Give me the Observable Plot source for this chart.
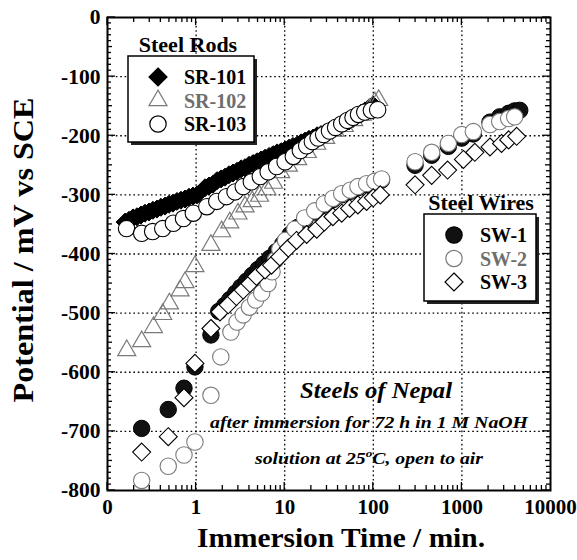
<!DOCTYPE html>
<html><head><meta charset="utf-8">
<script src="https://cdn.jsdelivr.net/npm/d3@7"></script>
<script src="https://cdn.jsdelivr.net/npm/@observablehq/plot@0.6"></script>
<style>body{margin:0;background:#fff} svg{display:block}</style>
</head><body><div id="chart"></div>
<script>
// ---------- data (time in min, potential in mV vs SCE) ----------
const xTicks = [0.1, 1, 10, 100, 1000, 10000];
const xTickLabels = ["0", "1", "10", "100", "1000", "10000"];
const yTicks = [-800, -700, -600, -500, -400, -300, -200, -100, 0];
const xGrid = [1, 10, 100, 1000];
const yGrid = [-700, -600, -500, -400, -300, -200, -100];

const sr101 = [[0.158,-346],[0.175,-343],[0.194,-339],[0.215,-337],[0.239,-334],[0.265,-331],[0.294,-329],[0.326,-326],[0.362,-324],[0.401,-321],[0.446,-319],[0.494,-316],[0.548,-314],[0.609,-311],[0.675,-309],[0.75,-307],[0.832,-304],[0.923,-302],[1.025,-300],[1.26,-288],[1.40,-285],[1.55,-282],[1.72,-276],[1.91,-273],[2.12,-270],[2.35,-266],[2.61,-263],[2.90,-260],[3.22,-256],[3.56,-254],[3.96,-250],[4.39,-247],[4.87,-244],[5.41,-241],[5.99,-238],[6.66,-235],[7.38,-232],[8.19,-229],[9.09,-227],[10.1,-224],[11.2,-221],[12.4,-218],[13.8,-216],[15.3,-212],[17.0,-209],[18.8,-206],[20.9,-204],[23.2,-200],[25.7,-198],[28.5,-195],[31.6,-192],[35.1,-188],[38.9,-185],[43.2,-182],[47.9,-178],[53.2,-175],[59,-171],[65.5,-166],[72.6,-162],[80.6,-158],[89.4,-153],[99.2,-148]];
const sr102 = [[0.165,-563],[0.243,-548],[0.33,-524],[0.42,-502],[0.5,-484],[0.66,-462],[0.75,-448],[0.97,-421],[1.47,-385],[1.94,-362],[2.4,-347],[2.97,-332],[3.57,-320],[4.3,-311],[5.2,-302],[6.3,-291],[7.5,-280],[9,-262],[11,-251],[14,-240],[18,-228],[23,-214],[29,-204],[37,-192],[47,-184],[60,-174],[75,-165],[90,-155],[104,-144],[115,-140]];
const sr103 = [[0.164,-357],[0.243,-365],[0.323,-362],[0.42,-357],[0.554,-348],[0.72,-340],[0.93,-331],[1.32,-320],[1.71,-311],[2.2,-303],[2.75,-295],[3.4,-286],[4.2,-278],[5.3,-269],[6.5,-261],[8.1,-252],[10.1,-244],[12.5,-235],[15,-225],[17.7,-217],[20.5,-210],[23.8,-204],[27.5,-198],[32,-192],[37.5,-186],[44,-180],[51,-174],[59,-169],[68,-164],[80,-160],[95,-157],[112,-156]];
const sw1 = [[0.243,-695],[0.485,-663],[0.73,-627],[0.97,-591],[1.47,-537],[1.8,-497],[2.1,-487],[2.4,-477],[2.8,-466],[3.2,-456],[3.7,-446],[4.3,-436],[5,-426],[5.8,-417],[6.8,-407],[8,-396],[9.5,-383],[11.5,-367],[14,-355],[17,-341],[21.8,-329],[28,-317],[35,-308],[44,-300],[55,-294],[67,-288],[84,-283],[104,-279],[124,-275],[296,-250],[456,-233],[703,-218],[995,-204],[1346,-197],[2075,-177],[2670,-168],[3370,-162],[3940,-158],[4500,-157]];
const sw2 = [[0.243,-783],[0.485,-759],[0.73,-740],[0.97,-718],[1.47,-639],[1.9,-574],[2.47,-532],[2.9,-515],[3.4,-503],[4.0,-490],[4.7,-478],[5.5,-466],[6.5,-450],[7.2,-430],[7.9,-410],[8.8,-392],[10.2,-377],[13,-358],[16.8,-339],[21.8,-327],[28,-315],[35,-306],[44,-298],[55,-292],[67,-286],[84,-281],[104,-277],[124,-273],[296,-244],[456,-228],[703,-213],[995,-198],[1346,-193],[2075,-181],[2670,-176],[3370,-171],[3940,-168]];
const sw3 = [[0.243,-735],[0.485,-709],[0.73,-643],[0.97,-585],[1.47,-526],[1.86,-498],[2.3,-486],[2.85,-472],[3.4,-461],[4.05,-450],[4.8,-438],[6.0,-427],[7.1,-419],[8.8,-405],[11,-390],[13.6,-377],[17.7,-367],[23,-358],[28,-346],[35,-337],[44,-331],[54,-323],[67,-317],[84,-311],[100,-305],[120,-300],[296,-283],[456,-267],[690,-258],[1040,-240],[1400,-228],[2075,-219],[2800,-213],[3370,-207],[4150,-201]];

const legendRods = ["SR-101", "SR-102", "SR-103"];
const legendWires = ["SW-1", "SW-2", "SW-3"];

// ---------- styles ----------
const FONT = "'Liberation Serif','Times New Roman',serif";
const GRAY = "#7a7a7a";
const R_CIRCLE = 8.2, R_DIAMOND = 8.1, R_TRI = 6.7;
const rows = arr => arr.map(([t, v]) => ({t, v}));

const chart = Plot.plot({
  width: 577, height: 560,
  marginLeft: 107, marginRight: 27, marginTop: 17, marginBottom: 70,
  style: {fontFamily: FONT, fontWeight: "bold", background: "white", color: "black", overflow: "visible"},
  x: {type: "log", domain: [0.1, 10000]},
  y: {domain: [-800, 0]},
  marks: [
    Plot.gridX(xGrid, {stroke: "black", strokeOpacity: 1, strokeDasharray: "1.6,2.8", strokeWidth: 1.3}),
    Plot.gridY(yGrid, {stroke: "black", strokeOpacity: 1, strokeDasharray: "1.6,2.8", strokeWidth: 1.3}),
    Plot.axisX(xTicks, {tickSize: 0, tickPadding: 9, fontSize: 21, label: null,
      tickFormat: d => xTickLabels[xTicks.indexOf(d)]}),
    Plot.axisY(yTicks, {tickSize: 0, tickPadding: 7, fontSize: 21.5, label: null, tickFormat: d => String(d)}),
    Plot.dot(rows(sr101), {x: "t", y: "v", symbol: "diamond2", r: R_DIAMOND, fill: "black", stroke: "black", strokeWidth: 1}),
    Plot.dot(rows(sr102), {x: "t", y: "v", symbol: "triangle", r: R_TRI, fill: "none", stroke: GRAY, strokeWidth: 1.2}),
    Plot.dot(rows(sr103), {x: "t", y: "v", symbol: "circle", r: R_CIRCLE, fill: "white", stroke: "black", strokeWidth: 1.1}),
    Plot.dot(rows(sw1), {x: "t", y: "v", symbol: "circle", r: R_CIRCLE, fill: "#111", stroke: "black", strokeWidth: 1}),
    Plot.dot(rows(sw2), {x: "t", y: "v", symbol: "circle", r: R_CIRCLE, fill: "white", stroke: GRAY, strokeWidth: 1.1}),
    Plot.dot(rows(sw3), {x: "t", y: "v", symbol: "diamond2", r: R_DIAMOND, fill: "white", stroke: "black", strokeWidth: 1.1}),
    Plot.frame({stroke: "black", strokeWidth: 2})
  ]
});
document.getElementById("chart").appendChild(chart);

// ---------- inward ticks, legends, titles ----------
const svg = d3.select(chart);
const sx = chart.scale("x"), sy = chart.scale("y");
const X = v => sx.apply(v), Y = v => sy.apply(v);
const [x0, x1] = [X(0.1), X(10000)], [yb, yt] = [Y(-800), Y(0)];
const tg = svg.append("g").attr("stroke", "black").attr("stroke-width", 1.3);
for (let e = -1; e < 4; e++) {
  for (let k = 1; k < 10; k++) {
    const v = k * Math.pow(10, e);
    const len = k === 1 ? 8 : 5;
    const px = X(v);
    tg.append("line").attr("x1", px).attr("x2", px).attr("y1", yb).attr("y2", yb - len);
    tg.append("line").attr("x1", px).attr("x2", px).attr("y1", yt).attr("y2", yt + len);
  }
}
for (let v = -800; v <= 0; v += 10) {
  const len = v % 100 === 0 ? 8 : (v % 50 === 0 ? 5 : 4);
  const py = Y(v);
  tg.append("line").attr("x1", x0).attr("x2", x0 + len).attr("y1", py).attr("y2", py);
  tg.append("line").attr("x1", x1).attr("x2", x1 - len).attr("y1", py).attr("y2", py);
}

const sym = (type, r) => d3.symbol(type, Math.PI * r * r)();
const T = (g, txt) => g.append("text").attr("font-family", FONT).attr("font-weight", "bold").text(txt);

function legend(title, names, box, styles, titleX, titleY) {
  const g = svg.append("g");
  T(g, title).attr("x", titleX).attr("y", titleY).attr("text-anchor", "middle").attr("font-size", 22);
  g.append("rect").attr("x", box.x + 3).attr("y", box.y + 3).attr("width", box.w).attr("height", box.h).attr("fill", "#222");
  g.append("rect").attr("x", box.x).attr("y", box.y).attr("width", box.w).attr("height", box.h).attr("fill", "white").attr("stroke", "black").attr("stroke-width", 1.5);
  names.forEach((n, i) => {
    const s = styles[i];
    const cy = box.y + 21 + i * 23.5;
    g.append("path").attr("d", sym(s.type, s.r)).attr("transform", `translate(${box.x + 30},${cy})`)
      .attr("fill", s.fill).attr("stroke", s.stroke).attr("stroke-width", 1.2);
    T(g, n).attr("x", box.x + 56).attr("y", cy + 7).attr("text-anchor", "start").attr("font-size", 20).attr("fill", s.text);
  });
}
legend("Steel Rods", legendRods, {x: 128, y: 56, w: 126, h: 86}, [
  {type: d3.symbolDiamond2, r: R_DIAMOND, fill: "black", stroke: "black", text: "black"},
  {type: d3.symbolTriangle, r: R_TRI, fill: "none", stroke: GRAY, text: "#6e6e6e"},
  {type: d3.symbolCircle, r: R_CIRCLE, fill: "white", stroke: "black", text: "black"}
], 188, 52);
legend("Steel Wires", legendWires, {x: 424, y: 214, w: 112, h: 87}, [
  {type: d3.symbolCircle, r: R_CIRCLE, fill: "#111", stroke: "black", text: "black"},
  {type: d3.symbolCircle, r: R_CIRCLE, fill: "white", stroke: GRAY, text: "#6e6e6e"},
  {type: d3.symbolDiamond2, r: R_DIAMOND, fill: "white", stroke: "black", text: "black"}
], 481, 210);

T(svg, "Potential / mV vs SCE").attr("transform", "translate(33,250) rotate(-90)")
  .attr("text-anchor", "middle").attr("font-size", 30).attr("textLength", 305).attr("lengthAdjust", "spacingAndGlyphs");
T(svg, "Immersion Time / min.").attr("x", 341).attr("y", 547).attr("text-anchor", "middle")
  .attr("font-size", 28).attr("textLength", 288).attr("lengthAdjust", "spacingAndGlyphs");

const ann = svg.append("g").attr("font-style", "italic");
T(ann, "Steels of Nepal").attr("x", 376).attr("y", 398).attr("text-anchor", "middle").attr("font-size", 24)
  .attr("textLength", 152).attr("lengthAdjust", "spacingAndGlyphs");
T(ann, "after immersion for 72 h in 1 M NaOH").attr("x", 369).attr("y", 428).attr("text-anchor", "middle").attr("font-size", 17.5)
  .attr("textLength", 318).attr("lengthAdjust", "spacingAndGlyphs");
const s3 = ann.append("text").attr("font-family", FONT).attr("font-weight", "bold").attr("x", 369).attr("y", 464)
  .attr("text-anchor", "middle").attr("font-size", 16.5).attr("textLength", 228).attr("lengthAdjust", "spacingAndGlyphs");
s3.append("tspan").text("solution at 25");
s3.append("tspan").attr("dy", -7).attr("font-size", 11).text("o");
s3.append("tspan").attr("dy", 7).text("C, open to air");
</script></body></html>
